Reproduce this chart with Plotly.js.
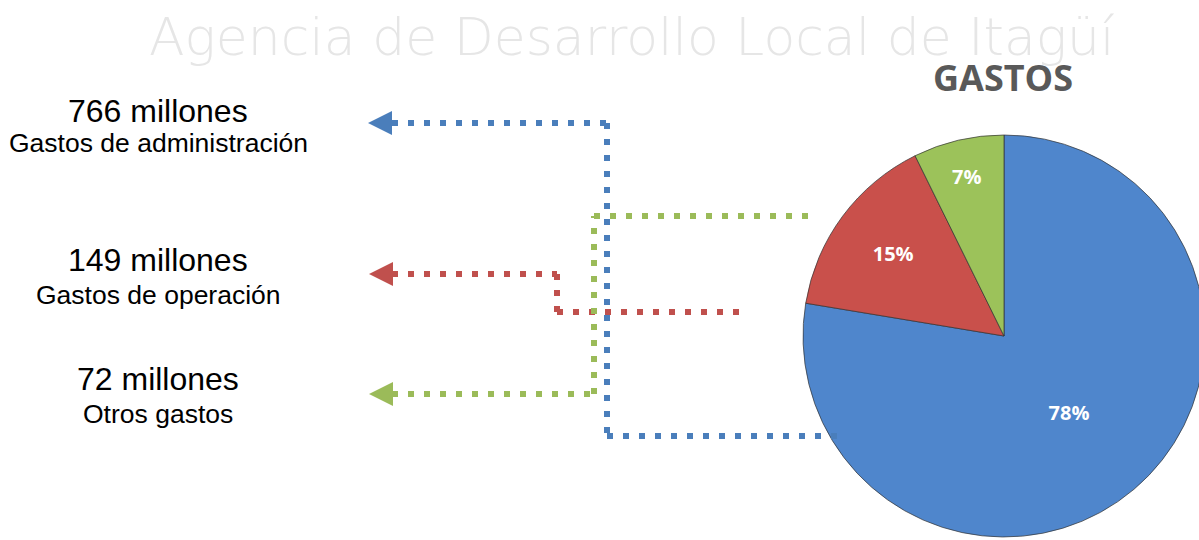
<!DOCTYPE html>
<html>
<head>
<meta charset="utf-8">
<script src="https://cdn.plot.ly/plotly-3.0.1.min.js"></script>
<style>
html,body{margin:0;padding:0;overflow:hidden;background:#fff;width:1199px;height:540px;}
#chart{width:1300px;height:540px;}
</style>
</head>
<body>
<div id="chart"></div>
<script>
// ---- data ----
const categories = ['Gastos de administración', 'Gastos de operación', 'Otros gastos'];
const values = [766, 149, 72];
const amountLabels = ['766 millones', '149 millones', '72 millones'];
const chartTitle = 'GASTOS';
const watermark = 'Agencia de Desarrollo Local de Itagüí';

// ---- styles / layout ----
const W = 1300, H = 540;
const sliceColors = ['#4F86CC', '#C9504B', '#9CC25A'];
const lineColors = ['#4A7EBB', '#C0504D', '#9BBB59'];
const px = x => x / W;
const py = y => 1 - y / H;

// connector polylines (pixel positions of decorative callouts)
const connectors = [
  {pts: [[392,123],[607,123],[607,436],[845,436]]},
  {pts: [[392,274],[557,274],[557,312],[742,312]]},
  {pts: [[392,394],[594,394],[594,216],[817,216]]}
];
const arrowTips = [[368,123],[369,274],[369,394]];
const labelY = [[111,143],[260,295],[379,414]];

const shapes = [];
connectors.forEach((c, i) => {
  for (let k = 0; k < c.pts.length - 1; k++) {
    shapes.push({type:'line', xref:'paper', yref:'paper',
      x0: px(c.pts[k][0]), y0: py(c.pts[k][1]), x1: px(c.pts[k+1][0]), y1: py(c.pts[k+1][1]),
      line:{color: lineColors[i], width: 6, dash: '6px,10px'}});
  }
});
arrowTips.forEach((t, i) => {
  const [x, y] = t;
  const p = `M ${px(x)} ${py(y)} L ${px(x+24)} ${py(y-12)} L ${px(x+24)} ${py(y+12)} Z`;
  shapes.push({type:'path', xref:'paper', yref:'paper', path: p,
    fillcolor: lineColors[i], line:{width:0}});
});

const annotations = [];
annotations.push({xref:'paper', yref:'paper', x: px(632), y: py(37), text: watermark,
  showarrow:false, xanchor:'center', yanchor:'middle',
  font:{family:'DejaVu Sans', size:52, color:'#E6E6E6', weight:300}});
categories.forEach((c, i) => {
  annotations.push({xref:'paper', yref:'paper', x: px(158), y: py(labelY[i][0]), text: amountLabels[i],
    showarrow:false, xanchor:'center', yanchor:'middle',
    font:{family:'Liberation Sans, Arial', size:32, color:'#000'}});
  annotations.push({xref:'paper', yref:'paper', x: px(158), y: py(labelY[i][1]), text: c,
    showarrow:false, xanchor:'center', yanchor:'middle',
    font:{family:'Liberation Sans, Arial', size:26.5, color:'#000'}});
});

const trace = {
  type:'pie',
  labels: categories,
  values: values,
  sort:false,
  direction:'clockwise',
  rotation:0,
  marker:{colors: sliceColors, line:{color:'rgba(50,50,50,0.7)', width:1}},
  texttemplate:'%{percent:.0%}',
  textposition:'inside',
  insidetextorientation:'horizontal',
  textfont:{family:'Open Sans', size:20, color:'#fff', weight:'bold'},
  domain:{x:[803/W, 1205/W], y:[1-537/H, 1-135/H]},
  hoverinfo:'label+value+percent'
};

const layout = {
  width: W, height: H,
  margin:{l:0, r:0, t:0, b:0},
  paper_bgcolor:'#fff',
  showlegend:false,
  title:{text: chartTitle, xref:'paper', yref:'paper', x: px(1003), y: py(78),
    xanchor:'center', yanchor:'middle',
    font:{family:'Open Sans', size:36, color:'#595959', weight:'bold'}},
  shapes: shapes,
  annotations: annotations
};

Plotly.newPlot('chart', [trace], layout, {staticPlot:true});
</script>
</body>
</html>
